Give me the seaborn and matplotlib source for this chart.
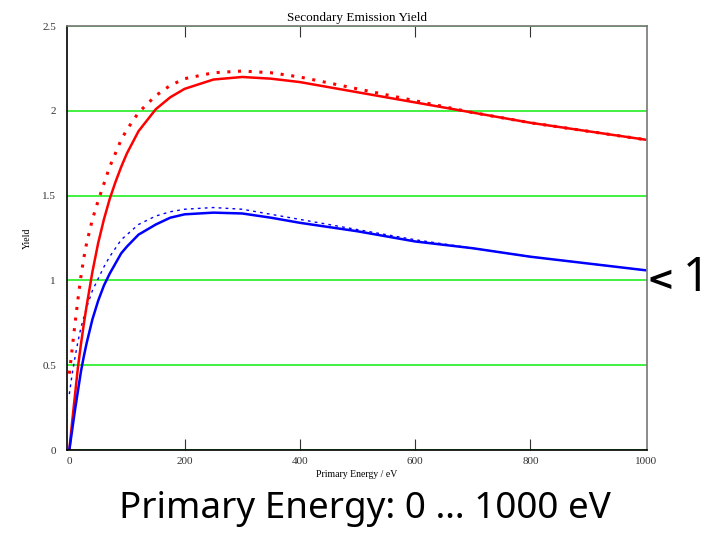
import matplotlib
matplotlib.use("Agg")
import matplotlib.pyplot as plt
import seaborn as sns
import pandas as pd

energy = [0, 5, 10, 15, 20, 25, 30, 40, 50, 60, 70, 80, 90, 100, 120, 150, 175, 200, 250, 300, 350, 400,
          500, 600, 700, 800, 900, 1000]

red_solid = [0.0, 0.17, 0.33, 0.49, 0.62, 0.74, 0.85, 1.05, 1.22, 1.36, 1.48, 1.58, 1.67, 1.75, 1.88, 2.01,
             2.08, 2.13, 2.185, 2.20, 2.19, 2.17, 2.11, 2.05, 1.99, 1.93, 1.88, 1.83]
red_dotted = [0.45, 0.60, 0.75, 0.89, 1.02, 1.13, 1.22, 1.36, 1.47, 1.57, 1.67, 1.75, 1.83, 1.89, 1.99, 2.09,
              2.15, 2.19, 2.225, 2.235, 2.225, 2.20, 2.13, 2.06, 1.99, 1.93, 1.88, 1.83]
blue_solid = [0.0, 0.12, 0.24, 0.35, 0.46, 0.55, 0.63, 0.77, 0.88, 0.97, 1.04, 1.10, 1.16, 1.20, 1.27, 1.33,
              1.37, 1.39, 1.40, 1.395, 1.37, 1.34, 1.29, 1.23, 1.19, 1.14, 1.10, 1.06]
blue_dotted = [0.33, 0.45, 0.55, 0.64, 0.72, 0.78, 0.84, 0.94, 1.01, 1.08, 1.14, 1.19, 1.24, 1.27, 1.33, 1.38,
               1.405, 1.42, 1.43, 1.42, 1.39, 1.36, 1.30, 1.24, 1.19, 1.14, 1.10, 1.06]

xticks = [0, 200, 400, 600, 800, 1000]
yticks = [0, 0.5, 1, 1.5, 2, 2.5]
ytick_labels = ["0", "0.5", "1", "1.5", "2", "2.5"]

df = pd.DataFrame({"energy": energy, "red": red_solid, "red_dot": red_dotted,
                   "blue": blue_solid, "blue_dot": blue_dotted})

sns.set_style("white")
plt.rcParams["font.family"] = ["Liberation Serif", "DejaVu Serif"]
plt.rcParams["text.color"] = "black"
plt.rcParams["axes.labelcolor"] = "black"
plt.rcParams["xtick.color"] = "#333333"
plt.rcParams["ytick.color"] = "#333333"

fig = plt.figure(figsize=(7.1, 5.33), dpi=100)
ax = fig.add_axes([0.0944, 0.1557, 0.8166, 0.7953])

ax.grid(axis="y", color="#22ee22", linewidth=1.2)
ax.set_axisbelow(True)

sns.lineplot(data=df, x="energy", y="red_dot", ax=ax, color="red", linewidth=2.2, linestyle=(0, (1, 2.5)))
sns.lineplot(data=df, x="energy", y="blue_dot", ax=ax, color="blue", linewidth=1.0, linestyle=(0, (2, 3)))
sns.lineplot(data=df, x="energy", y="red", ax=ax, color="red", linewidth=1.8)
sns.lineplot(data=df, x="energy", y="blue", ax=ax, color="blue", linewidth=1.8)

ax.set_xlim(-4, 1002)
ax.set_ylim(0, 2.5)
ax.set_xticks(xticks)
ax.set_yticks(yticks)
ax.set_yticklabels(ytick_labels)
ax.tick_params(axis="x", direction="in", length=8, top=True, bottom=True, labelsize=8, pad=5)
ax.tick_params(axis="y", length=0, labelsize=8, pad=8)
# no tick marks at the two ends, only the labels
for t in [ax.xaxis.get_major_ticks()[0], ax.xaxis.get_major_ticks()[-1]]:
    t.tick1line.set_visible(False)
    t.tick2line.set_visible(False)

for side in ["left", "bottom"]:
    ax.spines[side].set_color("black")
    ax.spines[side].set_linewidth(1.2)
for side in ["top", "right"]:
    ax.spines[side].set_color("#777777")
    ax.spines[side].set_linewidth(1.2)

ax.set_title("Secondary Emission Yield", fontsize=9.5, pad=4)
ax.set_xlabel("Primary Energy / eV", fontsize=7, labelpad=3)
ax.set_ylabel("Yield", fontsize=7, labelpad=7)

fig.text(0.514, 0.045, "Primary Energy: 0 \u2026 1000 eV", ha="center", va="center",
         fontsize=26.5, family=["Noto Sans", "DejaVu Sans"])
fig.text(0.911, 0.474, "<", ha="left", va="center", fontsize=24, fontweight="bold",
         family=["DejaVu Sans"])
fig.text(0.962, 0.478, "1", ha="left", va="center", fontsize=34,
         family=["Noto Sans", "DejaVu Sans"])

fig.savefig("out.png", dpi=100)
